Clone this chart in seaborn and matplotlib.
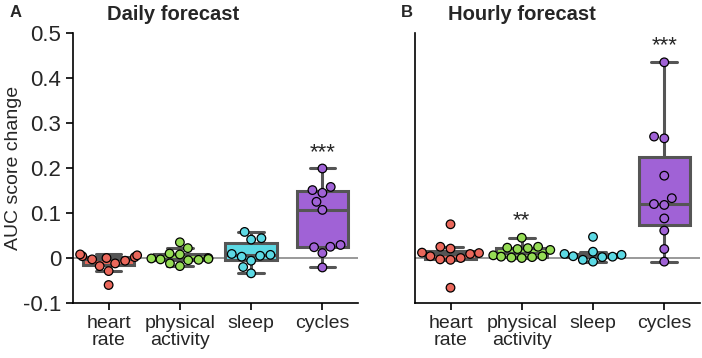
import seaborn as sns
import matplotlib.pyplot as plt
import pandas as pd

# Datos
features = ["heart rate", "physical activity", "sleep", "cycles"]
tick_labels = ["heart\nrate", "physical\nactivity", "sleep", "cycles"]
colors = ["#ea675b", "#95dc55", "#5cd9e4", "#a062d6"]

daily_heart = [-0.06, -0.029, -0.018, -0.012, -0.006, -0.003, 0.0, 0.002, 0.004, 0.006, 0.008]
daily_activity = [0.035, 0.022, 0.01, 0.008, 0.0, -0.001, -0.002, -0.003, -0.004, -0.005, -0.012, -0.018]
daily_sleep = [0.058, 0.044, 0.041, 0.009, 0.007, 0.005, 0.003, -0.006, -0.02, -0.034]
daily_cycles = [0.199, 0.158, 0.151, 0.145, 0.125, 0.107, 0.029, 0.025, 0.024, 0.011, -0.021]

hourly_heart = [0.075, 0.025, 0.021, 0.012, 0.011, 0.009, 0.004, 0.0, -0.003, -0.004, -0.066]
hourly_activity = [0.045, 0.025, 0.023, 0.022, 0.02, 0.018, 0.006, 0.004, 0.003, 0.002, 0.001, 0.0]
hourly_sleep = [0.047, 0.014, 0.009, 0.007, 0.004, 0.003, 0.002, -0.004, -0.008]
hourly_cycles = [0.435, 0.27, 0.266, 0.183, 0.133, 0.12, 0.118, 0.088, 0.061, 0.02, -0.008]

yticks = [-0.1, 0, 0.1, 0.2, 0.3, 0.4, 0.5]
ytick_labels = ["-0.1", "0", "0.1", "0.2", "0.3", "0.4", "0.5"]

# marcas de significancia: (panel, categoria, altura, texto)
stars = [(0, 3, 0.234, "***"), (1, 3, 0.473, "***"), (1, 1, 0.084, "**")]


def to_long(groups):
    rows = []
    for name, vals in zip(features, groups):
        for v in vals:
            rows.append({"feature": name, "value": v})
    return pd.DataFrame(rows)


df_daily = to_long([daily_heart, daily_activity, daily_sleep, daily_cycles])
df_hourly = to_long([hourly_heart, hourly_activity, hourly_sleep, hourly_cycles])

sns.set_style("ticks")
plt.rcParams["font.family"] = ["Liberation Sans", "DejaVu Sans"]

fig = plt.figure(figsize=(7.02, 3.58), dpi=100)
ax1 = fig.add_axes([0.104, 0.1536, 0.406, 0.754])
ax2 = fig.add_axes([0.591, 0.1536, 0.406, 0.754])
palette = dict(zip(features, colors))

for i, (ax, df) in enumerate([(ax1, df_daily), (ax2, df_hourly)]):
    ax.axhline(0, color="#888888", lw=1.2, zorder=0)
    sns.boxplot(data=df, x="feature", y="value", hue="feature", palette=palette,
                order=features, showfliers=False, width=0.72, linewidth=2.2,
                linecolor="#555555", saturation=1, legend=False, ax=ax)
    sns.swarmplot(data=df, x="feature", y="value", hue="feature", palette=palette,
                  order=features, size=6.2, edgecolor="black", linewidth=0.9,
                  legend=False, ax=ax)
    ax.set_xlim(-0.5, 3.5)
    ax.set_ylim(-0.1, 0.5)
    ax.set_xticks(range(len(features)))
    ax.set_xticklabels(tick_labels, fontsize=14, linespacing=1.0)
    ax.set_xlabel("")
    ax.tick_params(axis="x", length=5, width=1.2, color="black")
    sns.despine(ax=ax)
    for sp in ["left", "bottom"]:
        ax.spines[sp].set_linewidth(1.2)
        ax.spines[sp].set_color("black")

for panel, cat, y, txt in stars:
    ax = [ax1, ax2][panel]
    ax.text(cat, y, txt, ha="center", va="center", fontsize=16)

ax1.set_yticks(yticks)
ax1.set_yticklabels(ytick_labels, fontsize=16)
ax1.tick_params(axis="y", length=5, width=1.2, color="black")
ax1.set_ylabel("AUC score change", fontsize=14, labelpad=0.5)

ax2.set_yticks([])
ax2.set_ylabel("")

ax1.text(0.12, 1.07, "Daily forecast", transform=ax1.transAxes, ha="left",
         va="center", fontsize=14.5, fontweight="bold")
ax2.text(0.116, 1.07, "Hourly forecast", transform=ax2.transAxes, ha="left",
         va="center", fontsize=14.5, fontweight="bold")
fig.text(0.013, 0.965, "A", ha="left", va="center", fontsize=12, fontweight="bold")
fig.text(0.571, 0.965, "B", ha="left", va="center", fontsize=12, fontweight="bold")

fig.savefig("out.png", dpi=100)
